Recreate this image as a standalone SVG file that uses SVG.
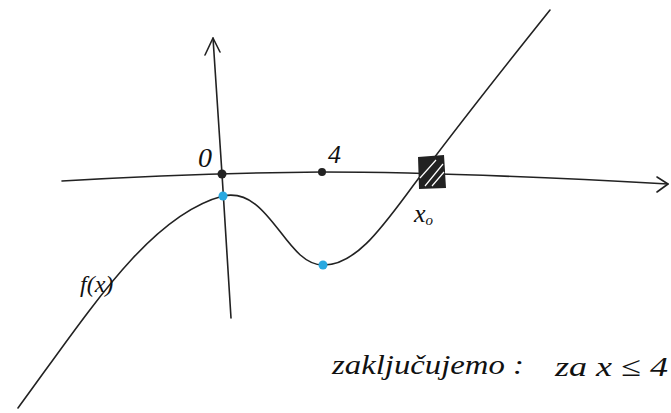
<svg xmlns="http://www.w3.org/2000/svg" width="671" height="413" viewBox="0 0 671 413">
<style>
.ln{fill:none;stroke:#222;stroke-width:1.6;stroke-linecap:round;stroke-linejoin:round}
.t{font-family:"Liberation Serif",serif;font-style:italic;fill:#111}
.pt{fill:#29a8e0}
</style>
<rect width="671" height="413" fill="#fff"/>
<g id="connectors">
<path class="ln" d="M62,181 Q 200,173 322,172 Q 450,172 668,184"/>
<path class="ln" d="M657,177 L668,184 L657,192"/>
<path class="ln" d="M231,318 L222,174 L213,38"/>
<path class="ln" d="M205,55 L213,38 L220,52"/>
</g>
<g id="curve">
<path class="ln" d="M18,408 C 90,310 150,215 223,196 C 270,186 285,265 323,265 C 360,266 390,215 425,170 C 470,110 510,60 550,10"/>
</g>
<g id="origin">
<circle cx="222" cy="174" r="4.5" fill="#222"/>
<text class="t" x="198" y="167" font-size="28">0</text>
</g>
<g id="four">
<circle cx="322" cy="172" r="4" fill="#222"/>
<text class="t" x="328" y="163" font-size="26">4</text>
</g>
<g id="x0">
<path d="M418,157 L444,155 L446,188 L419,189 Z" fill="#222"/>
<path d="M425,186 L443,164 M432,186 L444,172 M420,178 L436,160" stroke="#fff" stroke-width="1.2"/>
<text class="t" x="414" y="222" font-size="26">x<tspan font-size="15" dy="3">o</tspan></text>
</g>
<g id="peak"><circle class="pt" cx="223" cy="196" r="4.5"/></g>
<g id="min"><circle class="pt" cx="323" cy="265" r="4.5"/></g>
<g id="flabel"><text class="t" x="80" y="292" font-size="24">f(x)</text></g>
<g id="note">
<text class="t" x="332" y="374" font-size="28" textLength="192" lengthAdjust="spacingAndGlyphs">zaključujemo :</text>
<text class="t" x="555" y="376" font-size="28" textLength="113" lengthAdjust="spacingAndGlyphs">za  x ≤ 4</text>
</g>
</svg>
